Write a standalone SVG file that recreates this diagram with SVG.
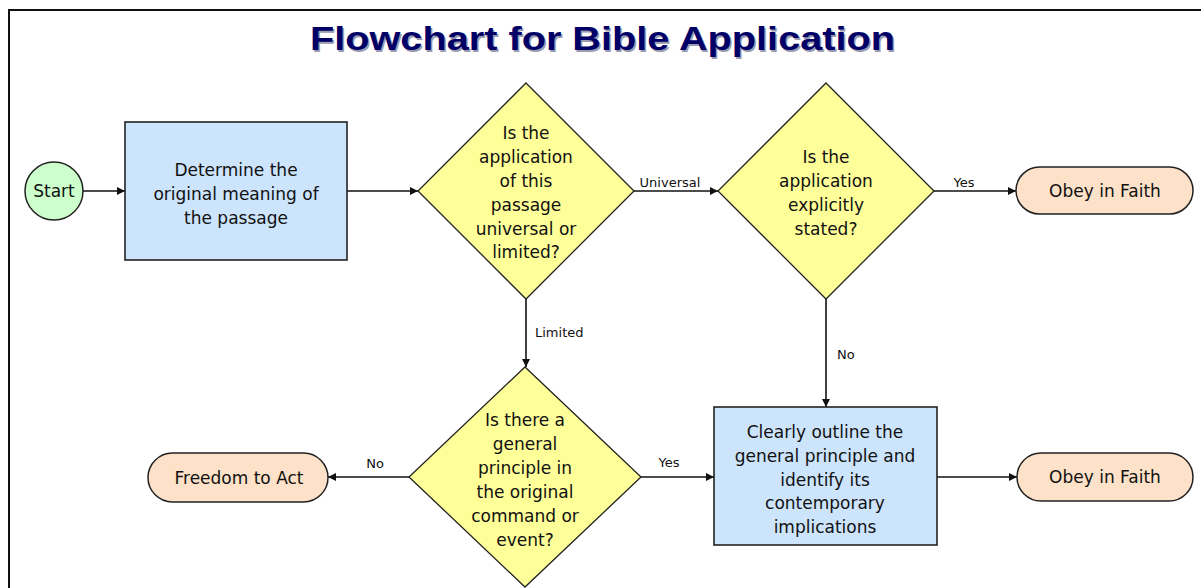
<svg xmlns="http://www.w3.org/2000/svg" width="1201" height="588" viewBox="0 0 1201 588">
<style>
.t{font-family:"DejaVu Sans","Liberation Sans",sans-serif;font-size:17px;fill:#111;text-anchor:middle}
.lb{font-family:"DejaVu Sans","Liberation Sans",sans-serif;font-size:13px;fill:#111}
.box{fill:#cce4fc;stroke:#222;stroke-width:1.6}
.dia{fill:#ffff99;stroke:#222;stroke-width:1.3}
.pill{fill:#fde1c8;stroke:#222;stroke-width:1.5}
.start{fill:#ccffcc;stroke:#222;stroke-width:1.5}
.c{fill:none;stroke:#111;stroke-width:1.6;marker-end:url(#ah)}
.title{font-family:"Liberation Sans",Arial,sans-serif;font-weight:bold;font-size:33px}
</style>
<defs>
<marker id="ah" viewBox="0 0 10 10" refX="10" refY="5" markerWidth="9" markerHeight="8" markerUnits="userSpaceOnUse" orient="auto">
<path d="M0,0 L10,5 L0,10 Z" fill="#111"/>
</marker>
</defs>
<rect width="1201" height="588" fill="#fff"/>
<g id="frame">
<line x1="8" y1="10" x2="1201" y2="10" stroke="#111" stroke-width="2"/>
<line x1="9" y1="9" x2="9" y2="588" stroke="#111" stroke-width="2"/>
</g>
<g id="title">
<text class="title" x="311.5" y="51.5" textLength="585" lengthAdjust="spacingAndGlyphs" fill="#9a9ab0">Flowchart for Bible Application</text>
<text class="title" x="310" y="50" textLength="585" lengthAdjust="spacingAndGlyphs" fill="#000066">Flowchart for Bible Application</text>
</g>
<g id="connectors">
<line class="c" x1="83" y1="191" x2="125" y2="191"/>
<line class="c" x1="347" y1="191" x2="418" y2="191"/>
<line class="c" x1="633" y1="191" x2="718" y2="191"/>
<line class="c" x1="933" y1="191" x2="1016" y2="191"/>
<line class="c" x1="826" y1="298" x2="826" y2="407"/>
<line class="c" x1="526" y1="298" x2="526" y2="367"/>
<line class="c" x1="409" y1="477" x2="328" y2="477"/>
<line class="c" x1="641" y1="477" x2="714" y2="477"/>
<line class="c" x1="937" y1="477" x2="1017" y2="477"/>
<text class="lb" x="670" y="187" text-anchor="middle">Universal</text>
<text class="lb" x="964" y="187" text-anchor="middle">Yes</text>
<text class="lb" x="837" y="359">No</text>
<text class="lb" x="535" y="337">Limited</text>
<text class="lb" x="375" y="468" text-anchor="middle">No</text>
<text class="lb" x="669" y="467" text-anchor="middle">Yes</text>
</g>
<g id="start">
<circle class="start" cx="54" cy="191" r="29"/>
<text class="t" x="54" y="197">Start</text>
</g>
<g id="determine">
<rect class="box" x="125" y="122" width="222" height="138"/>
<text class="t" x="236" y="176">Determine the</text>
<text class="t" x="236" y="200">original meaning of</text>
<text class="t" x="236" y="224">the passage</text>
</g>
<g id="universal-or-limited">
<polygon class="dia" points="526,83 634,191 526,299 418,191"/>
<text class="t" x="526" y="139">Is the</text>
<text class="t" x="526" y="163">application</text>
<text class="t" x="526" y="187">of this</text>
<text class="t" x="526" y="211">passage</text>
<text class="t" x="526" y="235">universal or</text>
<text class="t" x="526" y="258">limited?</text>
</g>
<g id="explicitly-stated">
<polygon class="dia" points="826,83 934,191 826,299 718,191"/>
<text class="t" x="826" y="163">Is the</text>
<text class="t" x="826" y="187">application</text>
<text class="t" x="826" y="211">explicitly</text>
<text class="t" x="826" y="235">stated?</text>
</g>
<g id="obey1">
<rect class="pill" x="1016" y="167" width="177" height="47" rx="23.5"/>
<text class="t" x="1105" y="197">Obey in Faith</text>
</g>
<g id="general-principle">
<polygon class="dia" points="525,367 641,477 525,587 409,477"/>
<text class="t" x="525" y="426">Is there a</text>
<text class="t" x="525" y="450">general</text>
<text class="t" x="525" y="474">principle in</text>
<text class="t" x="525" y="498">the original</text>
<text class="t" x="525" y="522">command or</text>
<text class="t" x="525" y="546">event?</text>
</g>
<g id="freedom">
<rect class="pill" x="148" y="453" width="180" height="49" rx="24.5"/>
<text class="t" x="239" y="484">Freedom to Act</text>
</g>
<g id="outline">
<rect class="box" x="714" y="407" width="223" height="138"/>
<text class="t" x="825" y="438">Clearly outline the</text>
<text class="t" x="825" y="462">general principle and</text>
<text class="t" x="825" y="486">identify its</text>
<text class="t" x="825" y="509">contemporary</text>
<text class="t" x="825" y="533">implications</text>
</g>
<g id="obey2">
<rect class="pill" x="1017" y="453" width="176" height="48" rx="24"/>
<text class="t" x="1105" y="483">Obey in Faith</text>
</g>
</svg>
